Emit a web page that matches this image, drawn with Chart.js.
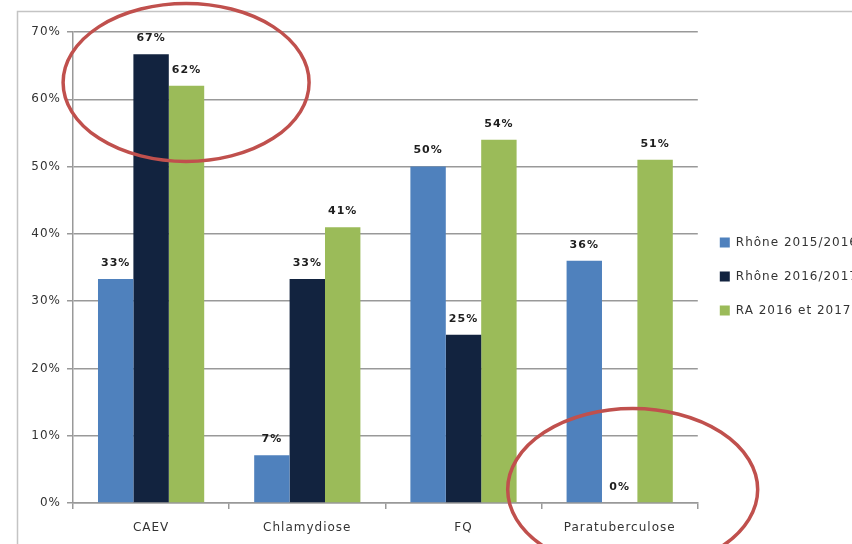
<!DOCTYPE html>
<html><head><meta charset="utf-8">
<script src="https://cdn.jsdelivr.net/npm/chart.js@4"></script>
<style>
html,body{margin:0;padding:0;background:#fff;overflow:hidden;width:852px;height:544px}
#wrap{position:relative;width:868px;height:544px}
</style></head>
<body><div id="wrap"><canvas id="c" width="868" height="544"></canvas></div>
<script>
const categories = ['CAEV', 'Chlamydiose', 'FQ', 'Paratuberculose'];
const seriesNames = ['Rhône 2015/2016', 'Rhône 2016/2017', 'RA 2016 et 2017'];
const rhone1516 = [33.3, 7.1, 50, 36];
const rhone1617 = [66.7, 33.3, 25, 0];
const ra1617 = [62, 41, 54, 51];
const yTicks = [0, 10, 20, 30, 40, 50, 60, 70];

const FONT = 'DejaVu Sans';
function spacing(chart){ try { chart.ctx.letterSpacing = '1px'; } catch(e){} }

const spacingPlugin = {
  id: 'spacing',
  beforeUpdate: spacing,
  beforeLayout: spacing,
  beforeDraw: spacing
};

const framePlugin = {
  id: 'frame',
  beforeDraw(chart){
    const {ctx, chartArea} = chart;
    const l = chartArea.left - 56, t = chartArea.top - 21;
    ctx.save();
    ctx.strokeStyle = '#c4c4c4';
    ctx.lineWidth = 1.5;
    ctx.beginPath();
    ctx.moveTo(l + 0.5, chart.height);
    ctx.lineTo(l + 0.5, t + 0.5);
    ctx.lineTo(chart.width, t + 0.5);
    ctx.stroke();
    ctx.restore();
  }
};

const labelPlugin = {
  id: 'valueLabels',
  afterDatasetsDraw(chart){
    const {ctx} = chart;
    ctx.save();
    ctx.letterSpacing = '1px';
    ctx.font = 'bold 11px "' + FONT + '"';
    ctx.fillStyle = '#1e1e1e';
    ctx.textAlign = 'center';
    ctx.textBaseline = 'middle';
    chart.data.datasets.forEach((ds, i) => {
      chart.getDatasetMeta(i).data.forEach((bar, j) => {
        ctx.fillText(Math.round(ds.data[j]) + '%', bar.x, bar.y - 16);
      });
    });
    ctx.restore();
  }
};

const ellipsePlugin = {
  id: 'ellipses',
  afterDraw(chart){
    const {ctx, scales: {x, y}} = chart;
    ctx.save();
    ctx.strokeStyle = '#C0504D';
    ctx.lineWidth = 3.5;
    ctx.beginPath();
    ctx.ellipse(x.getPixelForValue(0) + 35, y.getPixelForValue(62.5), 123, 79, 0, 0, Math.PI * 2);
    ctx.stroke();
    ctx.beginPath();
    ctx.ellipse(x.getPixelForValue(3) + 13, y.getPixelForValue(2), 125, 81, 0, 0, Math.PI * 2);
    ctx.stroke();
    ctx.restore();
  }
};

new Chart(document.getElementById('c'), {
  type: 'bar',
  data: {
    labels: categories,
    datasets: [
      {label: seriesNames[0], data: rhone1516, backgroundColor: '#4F81BD'},
      {label: seriesNames[1], data: rhone1617, backgroundColor: '#12233F'},
      {label: seriesNames[2], data: ra1617, backgroundColor: '#9BBB59'}
    ]
  },
  options: {
    responsive: false,
    animation: false,
    devicePixelRatio: 1,
    layout: {padding: {left: 17, top: 32, right: 0, bottom: 0}},
    datasets: {bar: {categoryPercentage: 0.68, barPercentage: 1.0, borderWidth: 0}},
    plugins: {
      legend: {
        position: 'right',
        align: 'start',
        title: {display: true, text: '', padding: {top: 168, bottom: 0}, font: {family: FONT, size: 12}},
        labels: {
          boxWidth: 10, boxHeight: 10, padding: 22,
          font: {family: FONT, size: 12}, color: '#333'
        }
      },
      tooltip: {enabled: false}
    },
    scales: {
      x: {
        grid: {drawOnChartArea: false, drawTicks: true, tickLength: 6, color: '#999', lineWidth: 1.5},
        border: {display: true, color: '#999', width: 1.5},
        ticks: {font: {family: FONT, size: 12}, color: '#333', padding: 12},
        afterFit(s){ s.height = 41; }
      },
      y: {
        min: 0, max: 70,
        afterBuildTicks(s){ s.ticks = yTicks.map(v => ({value: v})); },
        grid: {color: '#999', lineWidth: 1.5, tickLength: 6},
        border: {display: true, color: '#999', width: 1.5},
        ticks: {font: {family: FONT, size: 12}, color: '#333', padding: 6, callback: v => v + '%'},
        afterFit(s){ s.width = 56; }
      }
    }
  },
  plugins: [spacingPlugin, framePlugin, labelPlugin, ellipsePlugin]
});
</script>
</body></html>
